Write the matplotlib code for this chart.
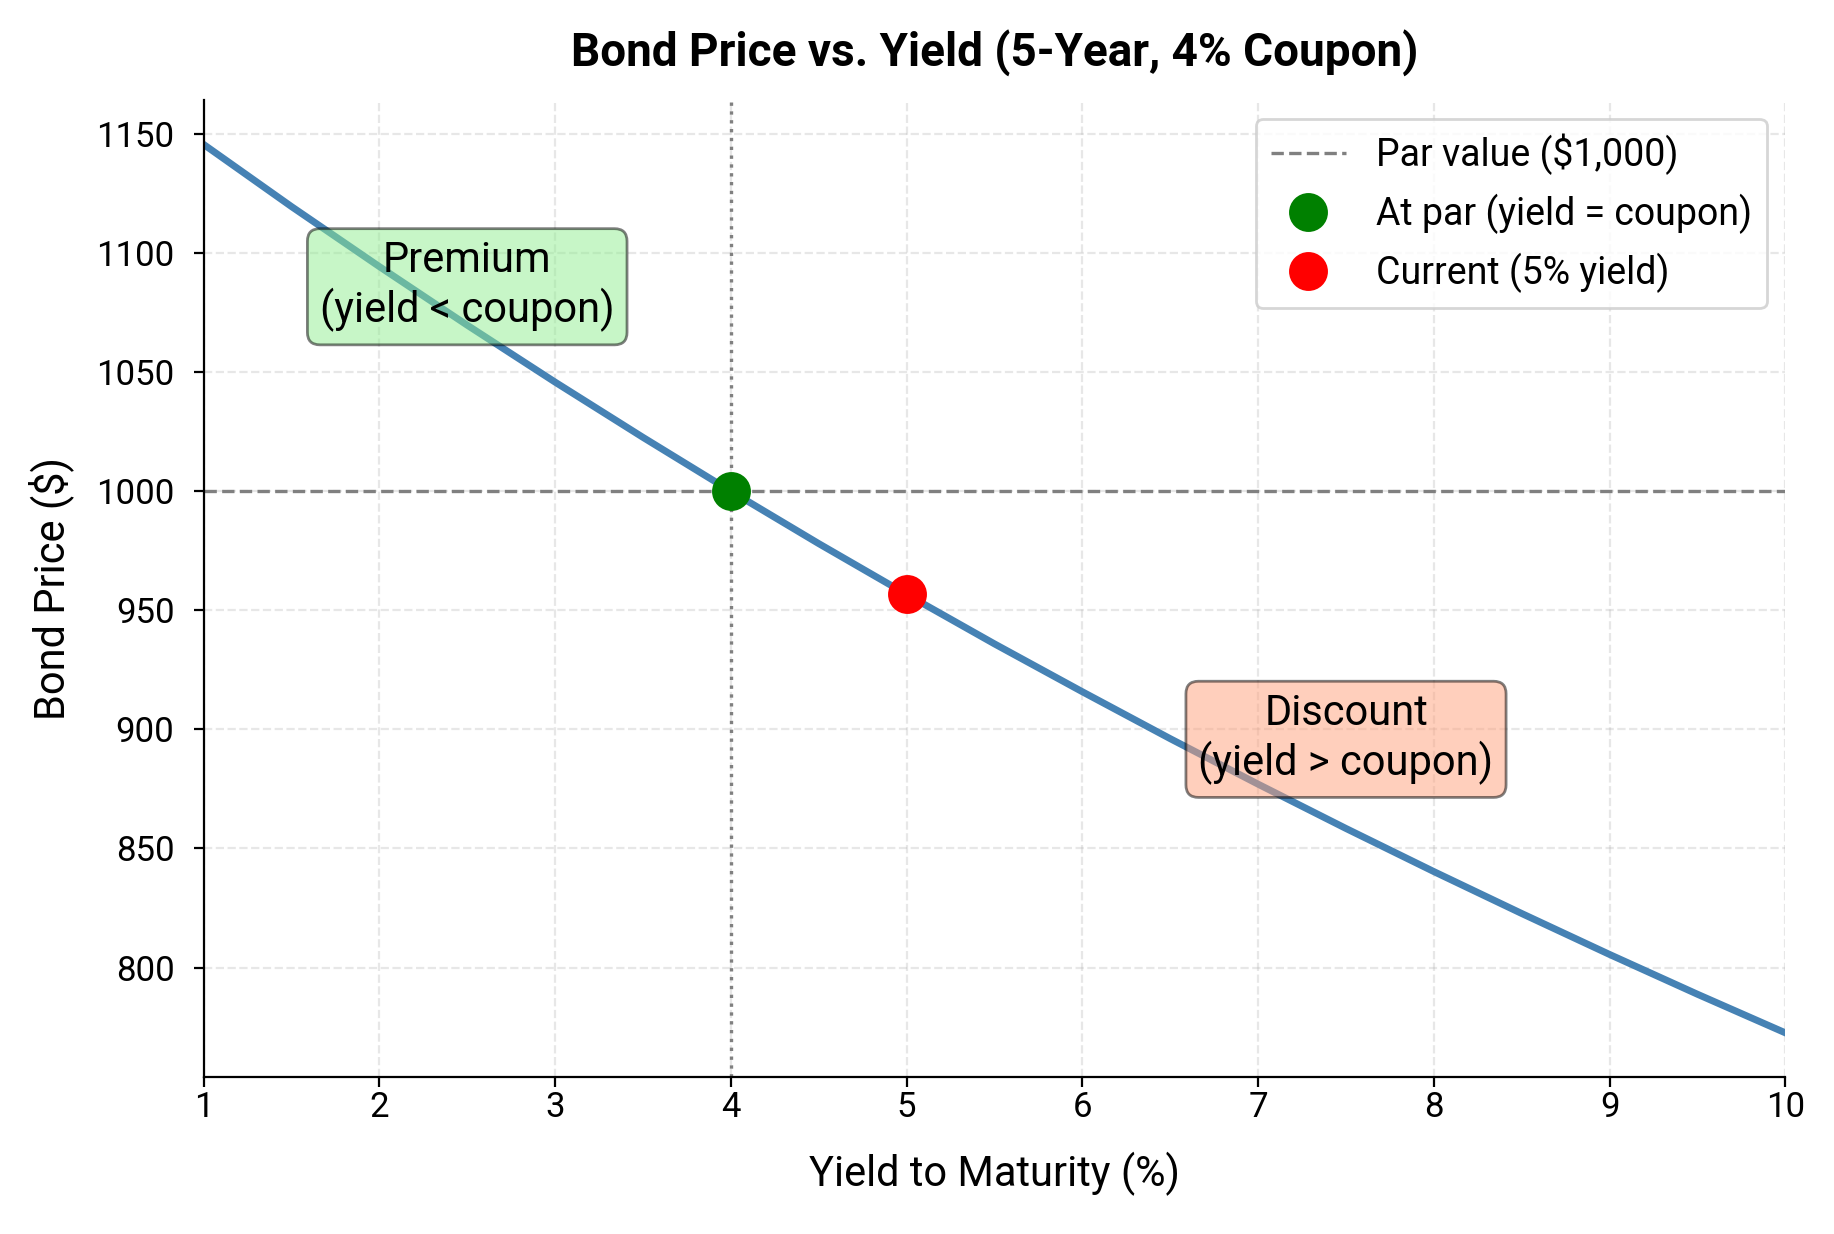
import matplotlib.pyplot as plt

plt.rcParams['font.family'] = ['Roboto', 'DejaVu Sans']

# Values (5-year bond, 4% coupon)
yields = [1.0, 1.5, 2.0, 2.5, 3.0, 3.5, 4.0, 4.5, 5.0, 5.5,
          6.0, 6.5, 7.0, 7.5, 8.0, 8.5, 9.0, 9.5, 10.0]
prices = [1145.6, 1119.5, 1094.3, 1069.7, 1045.8, 1022.6, 1000.0, 978.0, 956.7, 935.9,
          915.8, 896.1, 877.0, 858.4, 840.3, 822.7, 805.5, 788.8, 772.6]
par_value = 1000
coupon_rate = 4.0
current_yield = 5.0
current_price = 956.7

fig = plt.figure(figsize=(9.17, 6.17), dpi=200)
ax = fig.add_axes([0.111, 0.127, 0.8625, 0.792])

ax.plot(yields, prices, color='steelblue', linewidth=2.5)
ax.axhline(par_value, color='gray', linestyle='--', linewidth=1.2, label='Par value ($1,000)')
ax.axvline(coupon_rate, color='gray', linestyle=':', linewidth=1.2)
ax.plot(coupon_rate, par_value, 'o', color='green', markersize=13, label='At par (yield = coupon)')
ax.plot(current_yield, current_price, 'o', color='red', markersize=13, label='Current (5% yield)')

ax.text(2.5, 1086, 'Premium\n(yield < coupon)', ha='center', va='center', fontsize=15,
        bbox=dict(boxstyle='round', facecolor='lightgreen', alpha=0.5))
ax.text(7.5, 896, 'Discount\n(yield > coupon)', ha='center', va='center', fontsize=15,
        bbox=dict(boxstyle='round', facecolor='lightsalmon', alpha=0.5))

ax.set_xlim(1, 10)
ax.set_xticks(range(1, 11))
ax.set_xlabel('Yield to Maturity (%)', fontsize=15, labelpad=10)
ax.set_ylabel('Bond Price ($)', fontsize=15, labelpad=8)
ax.set_title('Bond Price vs. Yield (5-Year, 4% Coupon)', fontsize=16.5, fontweight='bold', pad=12)
ax.tick_params(labelsize=12.5)
ax.tick_params(axis='x', pad=1.5)
ax.tick_params(axis='y', pad=7)
ax.grid(True, linestyle='--', alpha=0.3)
ax.spines['top'].set_visible(False)
ax.spines['right'].set_visible(False)
ax.legend(loc='upper right', fontsize=13.5)

fig.savefig('out.png', dpi=200)
